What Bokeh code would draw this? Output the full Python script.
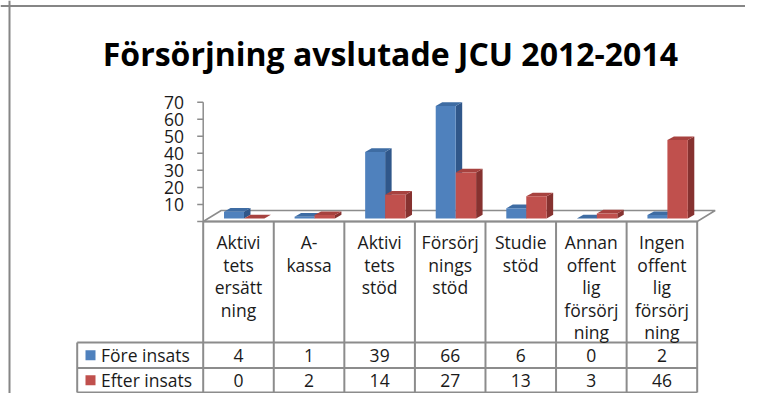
from bokeh.plotting import figure
from bokeh.models import Range1d, Span
from bokeh.core.properties import value
from bokeh.embed import file_html
from bokeh.resources import INLINE

# ---------------- data ----------------
title_text = "Försörjning avslutade JCU 2012-2014"
categories = [
    "Aktivi\ntets\nersätt\nning",
    "A-\nkassa",
    "Aktivi\ntets\nstöd",
    "Försörj\nnings\nstöd",
    "Studie\nstöd",
    "Annan\noffent\nlig\nförsörj\nning",
    "Ingen\noffent\nlig\nförsörj\nning",
]
series_names = ["Före insats", "Efter insats"]
fore_insats = [4, 1, 39, 66, 6, 0, 2]
efter_insats = [0, 2, 14, 27, 13, 3, 46]
y_ticks = [0, 10, 20, 30, 40, 50, 60, 70]
y_tick_labels = ["", "10", "20", "30", "40", "50", "60", "70"]

# ---------------- layout / style ----------------
W, H = 745, 393
PXX = 70.57        # px per category
PXY = 1.7043       # px per value unit
X0PX = 202.7       # px of category-axis origin from the left
Y0PX = 221.0       # px of value 0 from the top
FONT = "Open Sans"
GRAY = "#8C8C8C"
TXT = "#1A1A1A"
FS = "17.5px"

front_cols = ["#4F81BD", "#C0504D"]
top_cols = ["#3E6CA3", "#A7423F"]
side_cols = ["#30578A", "#863230"]

LIFT = 1.76           # bar base lift (3D)
DX, DY = 0.092, 2.17  # bar depth
FDX, FDY = 0.255, 6.45  # floor depth
bar_edges = [(0.295, 0.578), (0.578, 0.867)]


def sx(px):
    return (px - X0PX) / PXX


def sy(py):
    return (Y0PX - py) / PXY


n = len(categories)
x_range = Range1d(sx(0), sx(W))
y_range = Range1d(sy(H), sy(0))

p = figure(width=W, height=H, x_range=x_range, y_range=y_range,
           x_axis_type=None, y_axis_type=None, toolbar_location=None,
           output_backend="svg", min_border=0)
p.outline_line_color = None
p.background_fill_color = "white"
p.border_fill_color = "white"

# outer chart border (top & left visible)
p.add_layout(Span(location=sx(9), dimension="height", line_color="#868686", line_width=2))
p.add_layout(Span(location=sy(5.5), dimension="width", line_color="#868686", line_width=2))

# title
p.text(x=[sx(389.9)], y=[sy(53.3)], text=[title_text],
       text_font=value(FONT), text_font_style="bold", text_font_size="32px",
       text_align="center", text_baseline="alphabetic", text_color="black")

# floor
p.patch(x=[0, n, n + FDX, FDX], y=[0, 0, FDY, FDY],
        fill_color="white", line_color=GRAY, line_width=1.5)

# value axis
p.segment(x0=[0], y0=[y_ticks[0]], x1=[0], y1=[y_ticks[-1]], line_color=GRAY, line_width=1.5)
tick_len = 6 / PXX
p.segment(x0=[-tick_len] * len(y_ticks), y0=y_ticks, x1=[0] * len(y_ticks), y1=y_ticks,
          line_color=GRAY, line_width=1.5)
p.text(x=[sx(183.5)] * len(y_ticks), y=y_ticks, text=y_tick_labels,
       text_font=value(FONT), text_font_size=FS, text_align="right",
       text_baseline="middle", text_color=TXT)

# 3D bars
for s, vals in enumerate([fore_insats, efter_insats]):
    a, b = bar_edges[s]
    left = [i + a for i in range(n)]
    right = [i + b for i in range(n)]
    tops = [v + LIFT for v in vals]
    side_xs = [[r, r + DX, r + DX, r] for r in right]
    side_ys = [[LIFT, LIFT + DY, t + DY, t] for t in tops]
    top_xs = [[l, r, r + DX, l + DX] for l, r in zip(left, right)]
    top_ys = [[t, t, t + DY, t + DY] for t in tops]
    p.patches(xs=side_xs, ys=side_ys, fill_color=side_cols[s], line_color=None)
    p.patches(xs=top_xs, ys=top_ys, fill_color=top_cols[s], line_color=None)
    p.quad(left=left, right=right, bottom=[LIFT] * n, top=tops,
           fill_color=front_cols[s], line_color=None)

# data table
ROW_TOP, ROW_MID, ROW_BOT = sy(342), sy(367.5), sy(392)
LAB_L = sx(76.7)
vx0 = list(range(n + 1)) + [LAB_L]
vy0 = [0] * (n + 1) + [ROW_TOP]
vy1 = [ROW_BOT] * (n + 2)
p.segment(x0=vx0, y0=vy0, x1=vx0, y1=vy1, line_color=GRAY, line_width=2)
hy = [ROW_TOP, ROW_MID, ROW_BOT]
p.segment(x0=[0] + [LAB_L] * 3, y0=[0] + hy, x1=[n] * 4, y1=[0] + hy,
          line_color=GRAY, line_width=2)

# header text (category names, line by line)
LINE_H = 22.5 / PXY
hx, hyy, ht = [], [], []
for i, c in enumerate(categories):
    for k, line in enumerate(c.split("\n")):
        hx.append(i + 0.5)
        hyy.append(sy(241.5) - LINE_H * k)
        ht.append(line)
p.text(x=hx, y=hyy, text=ht, text_font=value(FONT), text_font_size=FS,
       text_align="center", text_baseline="middle", text_color=TXT)

# rows
row_y = [(ROW_TOP + ROW_MID) / 2, (ROW_MID + ROW_BOT) / 2]
for s, vals in enumerate([fore_insats, efter_insats]):
    p.text(x=[i + 0.5 for i in range(n)], y=[row_y[s]] * n, text=[str(v) for v in vals],
           text_font=value(FONT), text_font_size=FS, text_align="center",
           text_baseline="middle", text_color=TXT)
    p.scatter(x=[sx(90)], y=[row_y[s]], marker="square", size=10,
              fill_color=front_cols[s], line_color=None)
    p.text(x=[sx(100.5)], y=[row_y[s]], text=[series_names[s]],
           text_font=value(FONT), text_font_size=FS, text_align="left",
           text_baseline="middle", text_color=TXT)

open("out.html", "w").write(file_html(p, INLINE))
